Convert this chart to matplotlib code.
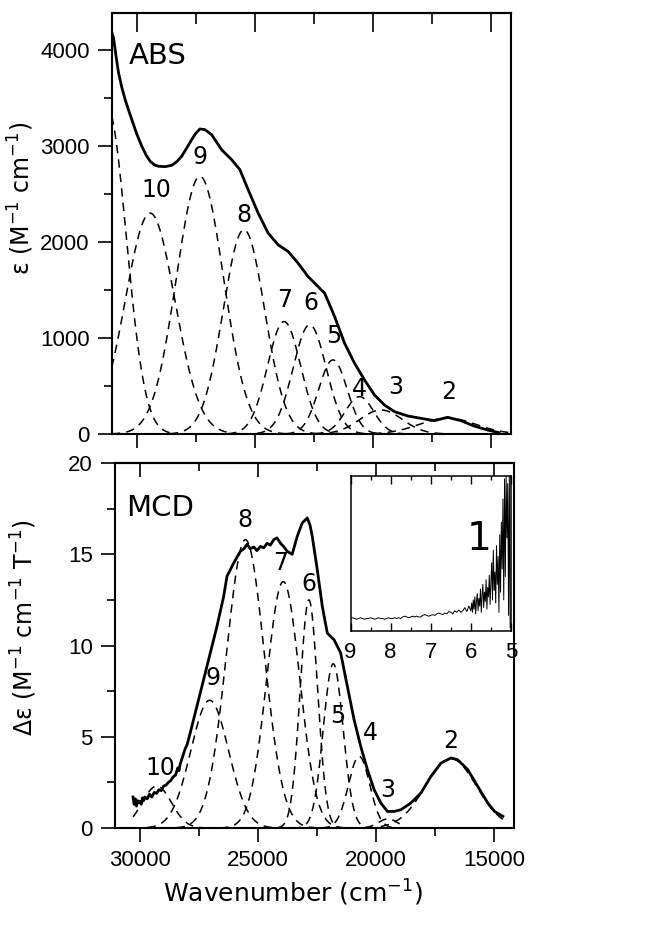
import numpy as np
import matplotlib
matplotlib.use("Agg")
import matplotlib.pyplot as plt
from matplotlib.ticker import MultipleLocator

plt.rcParams['font.family'] = ['DejaVu Sans']
plt.rcParams['mathtext.fontset'] = 'dejavusans'

# ---- ABS spectrum (solid line) ----
abs_wn = [31060, 30985, 30880, 30774, 30640, 30494, 30350, 30211, 30000, 29789,
          29600, 29437, 29250, 29085, 28800, 28521, 28300, 28099, 27900, 27676,
          27500, 27324, 27113, 26831, 26409, 25986, 25634, 25282, 24859, 24437,
          24014, 23592, 23169, 22747, 22324, 22043, 21620, 21198, 20776, 20353,
          19931, 19508, 19086, 18523, 17960, 17396, 16833, 16270, 15707, 15144,
          14651]
abs_eps = [4180, 4120, 3930, 3757, 3610, 3479, 3370, 3271, 3120, 2994,
           2900, 2838, 2800, 2786, 2782, 2796, 2835, 2890, 2970, 3063,
           3130, 3174, 3167, 3115, 2958, 2855, 2751, 2542, 2299, 2091,
           1969, 1900, 1778, 1639, 1535, 1466, 1222, 945, 737, 563,
           406, 302, 233, 188, 163, 139, 174, 139, 83, 42,
           14]

# Gaussian components of the ABS fit (dashed); first one is unlabeled
abs_band = ['', '10', '9', '8', '7', '6', '5', '4', '3', '2']
abs_centre = [31250, 29437, 27324, 25462, 23761, 22676, 21690, 20565, 19650, 16833]
abs_height = [3400, 2299, 2681, 2126, 1170, 1136, 771, 389, 250, 165]
abs_sigma = [800, 1050, 1000, 880, 700, 700, 600, 600, 900, 1200]

# ---- MCD spectrum (solid line) ----
mcd_wn = [30300, 30250, 30200, 30150, 30100, 30050, 30000, 29950, 29900, 29850,
          29800, 29700, 29600, 29500, 29400, 29300, 29200, 29100, 29000, 28900,
          28800, 28700, 28600, 28500, 28400, 28350, 28300, 28200, 28100, 28000,
          27875, 27592, 27308, 27025, 26742, 26458, 26317, 26033, 25750, 25600,
          25467, 25330, 25183, 25050, 24900, 24760, 24617, 24480, 24333, 24200,
          24050, 23900, 23767, 23554, 23342, 23129, 22917, 22800,
          22704, 22492, 22279, 22067, 21783, 21500, 21217, 20933, 20650, 20367,
          20083, 19800, 19517, 19233, 18950, 18525, 18100, 17675, 17250, 16825,
          16542, 16117, 15692, 15267, 14983, 14629]
mcd_de = [1.7, 1.3, 1.6, 1.2, 1.5, 1.4, 1.45, 1.3, 1.65, 1.5,
          1.7, 1.6, 1.85, 1.7, 1.95, 1.9, 2.1, 2.05, 2.3, 2.35,
          2.5, 2.6, 2.8, 2.9, 3.3, 3.15, 3.5, 3.9, 4.3, 4.6,
          5.21, 6.67, 8.13, 9.59, 11.05, 12.69, 13.79, 14.52, 15.16, 15.3,
          15.55, 15.3, 15.4, 15.2, 15.43, 15.35, 15.6, 15.5, 15.8, 15.9,
          15.6, 15.4, 15.16, 15.0, 15.98, 16.71, 16.99, 16.6,
          15.98, 14.16, 12.15, 10.68, 10.32, 9.59, 7.76, 5.94, 4.47, 3.20,
          2.10, 1.37, 0.91, 0.91, 1.00, 1.37, 1.92, 2.83, 3.56, 3.84,
          3.74, 3.20, 2.28, 1.37, 0.91, 0.64]

# Gaussian components of the MCD fit (dashed)
mcd_band = ['10', '9', '8', '7', '6', '5', '4', '3', '2']
mcd_centre = [29290, 27050, 25537, 23934, 22846, 21816, 20719, 19500, 16830]
mcd_height = [2.3, 7.0, 15.8, 13.5, 12.5, 9.0, 3.93, 0.5, 3.8]
mcd_sigma = [620, 800, 800, 700, 370, 420, 450, 400, 1080]

# ---- inset: low-energy region (x 10^3 cm-1), relative scale ----
inset_x1 = np.linspace(9.0, 6.0, 61)
inset_y1 = [8, 8.5, 8, 7.5, 8, 8.5, 8, 7.5, 8, 8, 8.5, 8, 7.5, 8, 8.5, 8, 8, 7.5, 8, 8.5, 8,
            8, 8.5, 8, 8.5, 8, 9, 9.5, 9, 8.5, 9, 9.5, 9, 9.5, 9, 9, 10, 10.5, 10, 9.5, 10,
            10.5, 10, 11, 11.5, 11, 10.5, 11.5, 11, 12.5, 12, 11, 13, 12, 13.5, 12, 13, 15, 12.5, 16, 13]
inset_x2 = np.linspace(5.98, 5.02, 49)
inset_y2 = [18, 12, 20, 14, 22, 11, 19, 24, 13, 21, 16, 27, 12, 23, 30, 15, 25, 19, 33, 14,
            28, 22, 36, 17, 31,
            44, 20, 52, 26, 38, 18, 55, 30, 48, 12, 62, 25, 70, 40, 85, 20, 98, 35, 100, 60,
            95, 10, 100, 2]

# label positions (data coordinates)
abs_lab_pos = {'10': (29155, 2542), '9': (27338, 2886), '8': (25479, 2282),
               '7': (23747, 1396), '6': (22606, 1365), '5': (21677, 1021),
               '4': (20578, 470), '3': (19015, 490), '2': (16776, 438)}
mcd_lab_pos = {'10': (29150, 3.3), '9': (26911, 8.2), '8': (25537, 16.9),
               '7': (24048, 14.5), '6': (22846, 13.35), '5': (21640, 6.12),
               '4': (20223, 5.2), '3': (19514, 2.1), '2': (16822, 4.75)}


def gauss(x, c, h, s):
    return h * np.exp(-(x - c) ** 2 / (2.0 * s ** 2))


DASH = (0, (5.5, 4))
TICKFONT = 'Liberation Sans'
TS = 16


def style(ax, top_major):
    ax.set_xlim(31060, 14150)
    for sp in ax.spines.values():
        sp.set_linewidth(1.5)
    ax.xaxis.set_major_locator(MultipleLocator(5000))
    ax.xaxis.set_minor_locator(MultipleLocator(2500))
    ax.tick_params(which='both', direction='out', top=False, right=False,
                   width=1.2, labelsize=TS, pad=6, labelfontfamily=TICKFONT)
    ax.tick_params(which='major', length=10)
    ax.tick_params(which='minor', length=6)
    sec = ax.secondary_xaxis('top')
    sec.xaxis.set_major_locator(MultipleLocator(5000))
    sec.xaxis.set_minor_locator(MultipleLocator(2500))
    sec.tick_params(which='both', direction='in', labeltop=False, width=1.2)
    sec.tick_params(which='major', length=top_major)
    sec.tick_params(which='minor', length=top_major * 0.55)
    sec.spines['top'].set_linewidth(1.5)


fig = plt.figure(figsize=(6.5, 9.26), dpi=100)

# ---------------- ABS ----------------
ax1 = fig.add_axes([0.172, 0.5313, 0.614, 0.4546])
style(ax1, 14)
xg = np.linspace(31060, 14150, 800)
for c, h, s in zip(abs_centre, abs_height, abs_sigma):
    ax1.plot(xg, gauss(xg, c, h, s), color='black', lw=1.1, ls=DASH)
ax1.plot(abs_wn, abs_eps, color='black', lw=2.0)
ax1.set_ylim(0, 4380)
ax1.yaxis.set_major_locator(MultipleLocator(1000))
ax1.yaxis.set_minor_locator(MultipleLocator(500))
ax1.tick_params(axis='x', labelbottom=False)
ax1.set_ylabel('ε (M$^{-1}$ cm$^{-1}$)', fontsize=17)
ax1.yaxis.set_label_coords(-0.19, 0.56)
ax1.text(30338, 3928, 'ABS', fontsize=21, ha='left', va='center')
for lab, (x, y) in abs_lab_pos.items():
    ax1.text(x, y, lab, fontsize=17, ha='center', va='center')

# ---------------- MCD ----------------
ax2 = fig.add_axes([0.177, 0.1058, 0.614, 0.3942])
style(ax2, 10)
xm = np.linspace(30300, 19000, 600)
xm2 = np.linspace(19800, 14629, 300)
for b, c, h, s in zip(mcd_band, mcd_centre, mcd_height, mcd_sigma):
    xx = xm2 if b == '2' else xm
    ax2.plot(xx, gauss(xx, c, h, s), color='black', lw=1.1, ls=DASH)
ax2.plot(mcd_wn, mcd_de, color='black', lw=2.0)
ax2.set_ylim(0, 20)
ax2.yaxis.set_major_locator(MultipleLocator(5))
ax2.yaxis.set_minor_locator(MultipleLocator(2.5))
ax2.set_ylabel('Δε (M$^{-1}$ cm$^{-1}$ T$^{-1}$)', fontsize=17)
ax2.yaxis.set_label_coords(-0.19, 0.55)
ax2.set_xlabel('Wavenumber (cm$^{-1}$)', fontsize=18)
ax2.xaxis.set_label_coords(0.445, -0.135)
ax2.text(30595, 17.53, 'MCD', fontsize=21, ha='left', va='center')
for lab, (x, y) in mcd_lab_pos.items():
    ax2.text(x, y, lab, fontsize=17, ha='center', va='center')

# ---------------- inset ----------------
axi = ax2.inset_axes([0.590, 0.540, 0.402, 0.425])
axi.plot(list(inset_x1) + list(inset_x2), inset_y1 + inset_y2, color='black', lw=0.7)
axi.set_xlim(9, 5)
axi.set_ylim(0, 100)
axi.set_yticks([])
axi.xaxis.set_major_locator(MultipleLocator(1))
axi.xaxis.set_minor_locator(MultipleLocator(0.5))
axi.tick_params(axis='x', which='both', direction='in', top=True, width=1.0,
                labelsize=TS, pad=8, labelfontfamily=TICKFONT)
axi.tick_params(axis='x', which='major', length=6)
axi.tick_params(axis='x', which='minor', length=3)
for sp in axi.spines.values():
    sp.set_linewidth(1.1)
axi.text(0.80, 0.59, '1', transform=axi.transAxes, fontsize=28,
         ha='center', va='center')

fig.savefig('out.png', dpi=100)
